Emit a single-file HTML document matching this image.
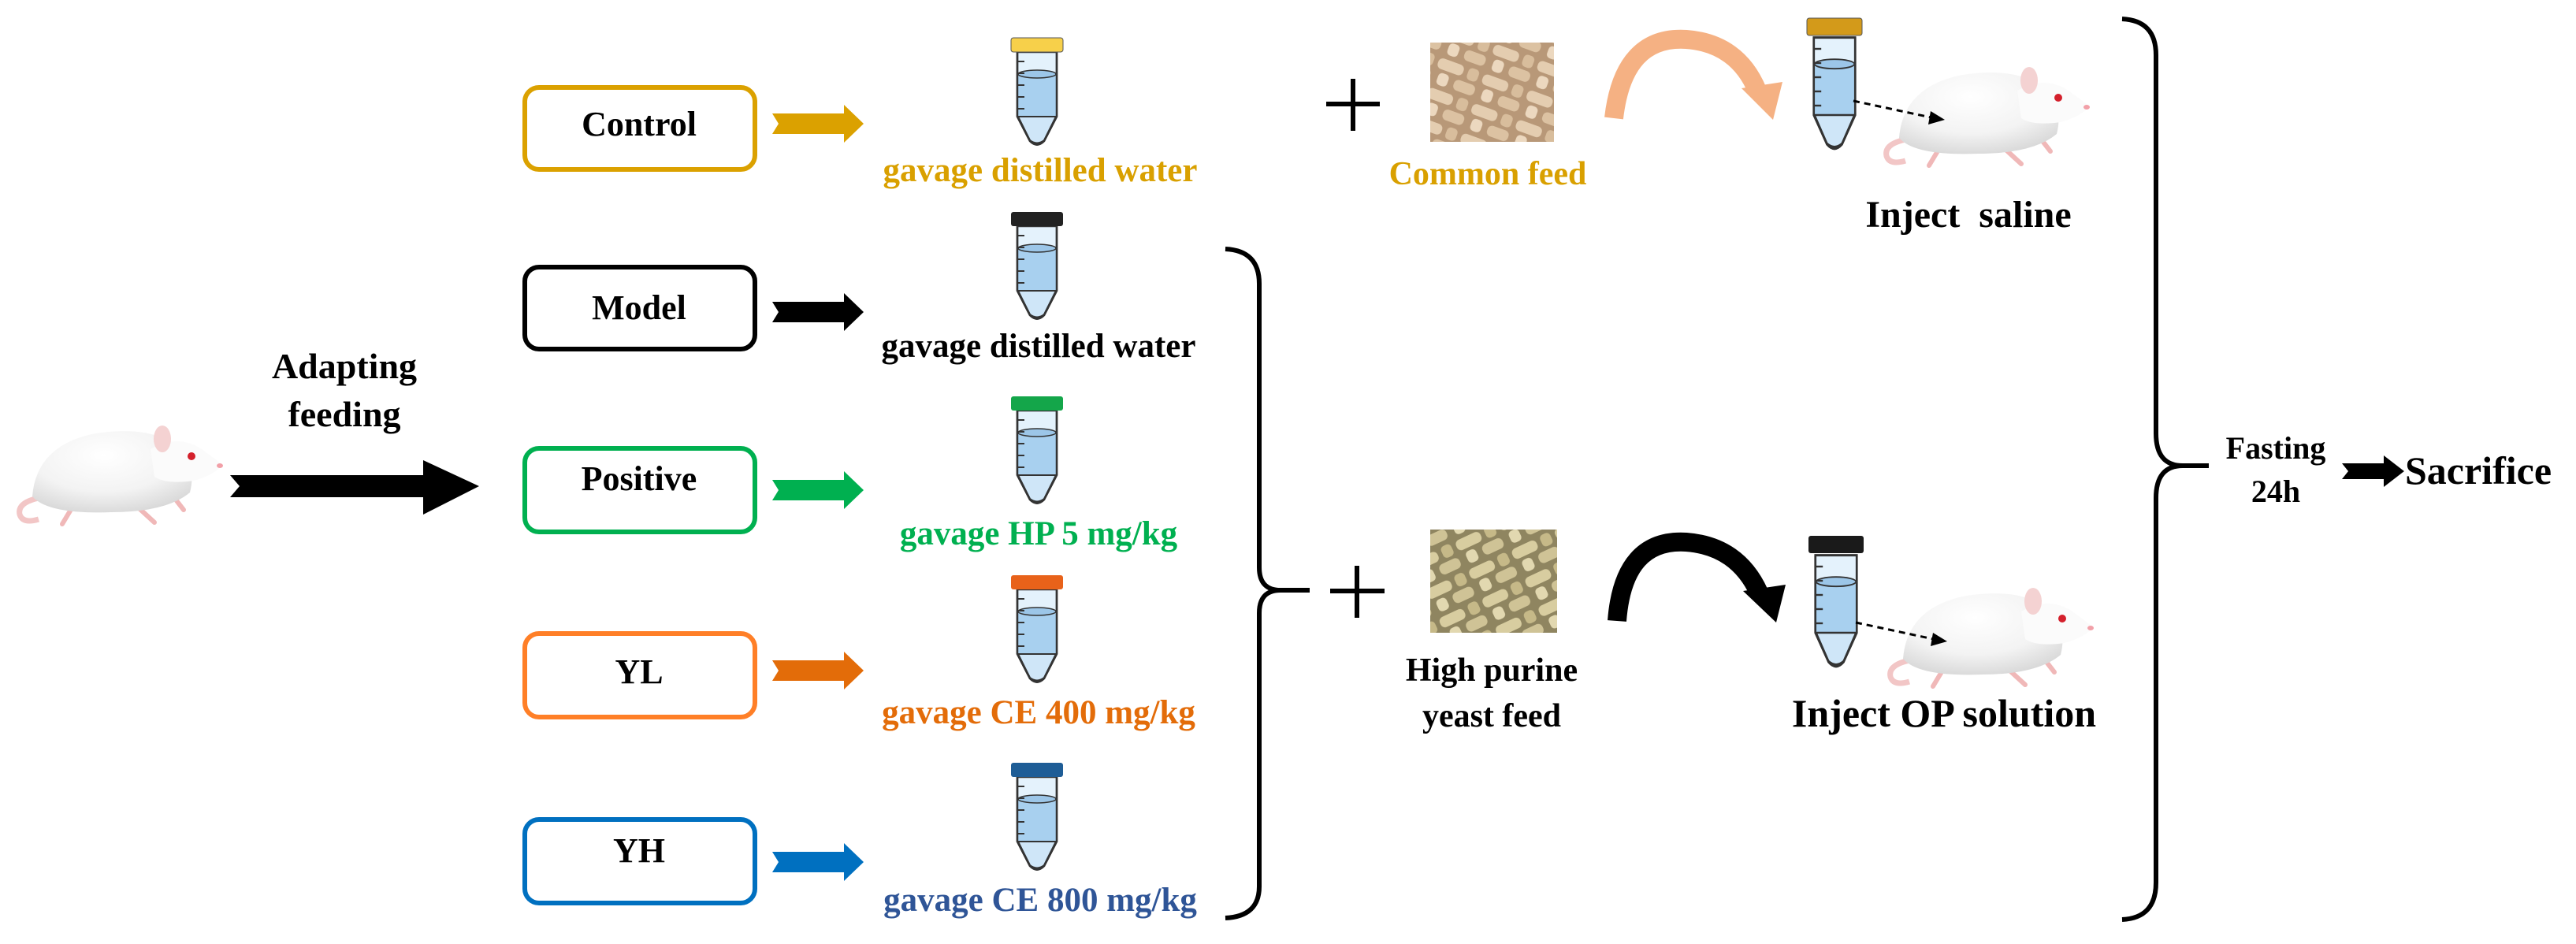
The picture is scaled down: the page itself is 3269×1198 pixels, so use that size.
<!DOCTYPE html>
<html><head><meta charset="utf-8"><style>
html,body{margin:0;padding:0;background:#fff}
svg{display:block}
text{font-family:"Liberation Serif",serif;font-weight:bold}
</style></head><body>
<svg width="3269" height="1198" viewBox="0 0 3269 1198" xmlns="http://www.w3.org/2000/svg">
<defs>
<radialGradient id="fur" cx="0.45" cy="0.3" r="0.75">
<stop offset="0" stop-color="#ffffff"/><stop offset="0.6" stop-color="#f3f3f3"/><stop offset="1" stop-color="#d6d6d6"/>
</radialGradient>
<g id="tube">
<path d="M-25,18 V100 L-9,131 Q0,140 9,131 L25,100 V18 Z" fill="#e4f2fc" stroke="#333" stroke-width="2.5"/>
<path d="M-24,46 H24 V100 L9,130 Q0,137 -9,130 L-24,100 Z" fill="#a8d0ef"/>
<path d="M-24,100 H24 L9,130 Q0,137 -9,130 Z" fill="#cfe6f8" stroke="#333" stroke-width="2"/>
<ellipse cx="0" cy="46" rx="24" ry="5" fill="#9cc6e8" stroke="#333" stroke-width="1.5"/>
<path d="M-25,18 V100 L-9,131 Q0,140 9,131 L25,100 V18" fill="none" stroke="#333" stroke-width="2.5"/>
<g stroke="#333" stroke-width="2"><line x1="-24" y1="30" x2="-16" y2="30"/><line x1="-24" y1="45" x2="-16" y2="45"/><line x1="-24" y1="60" x2="-16" y2="60"/><line x1="-24" y1="75" x2="-16" y2="75"/><line x1="-24" y1="90" x2="-16" y2="90"/></g>
</g>
<g id="arr"><path d="M0,-13 H91 V-24 L116,0 L91,24 V13 H0 L8,0 Z"/></g>
<g id="rat">
<path d="M40,95 Q0,100 4,118 Q8,130 28,124" fill="none" stroke="#f2c6c6" stroke-width="7"/>
<g stroke="#f0b8b8" stroke-width="6" stroke-linecap="round"><line x1="70" y1="110" x2="58" y2="130"/><line x1="150" y1="105" x2="175" y2="128"/><line x1="195" y1="90" x2="212" y2="112"/></g>
<path d="M20,95 Q25,30 100,15 Q170,5 200,30 Q230,50 220,90 Q190,115 120,115 Q40,118 20,95 Z" fill="url(#fur)"/>
<path d="M170,35 Q205,15 235,35 L262,55 Q250,68 225,75 Q190,80 175,70 Z" fill="#fbfbfb"/>
<ellipse cx="258" cy="56" rx="4" ry="3" fill="#f2a0a8"/>
<ellipse cx="185" cy="22" rx="11" ry="17" fill="#f4d2d2"/>
<circle cx="222" cy="44" r="5" fill="#d4202c"/>
</g>
<pattern id="feed1" width="60" height="40" patternUnits="userSpaceOnUse" patternTransform="rotate(20)">
<rect width="60" height="40" fill="#b89878"/>
<rect x="2" y="3" width="34" height="14" rx="6" fill="#e4cdb0"/>
<rect x="30" y="22" width="28" height="14" rx="6" fill="#dcc2a2"/>
<rect x="8" y="21" width="14" height="16" rx="5" fill="#ecd8bf"/>
<rect x="42" y="2" width="14" height="16" rx="5" fill="#d8bd9c"/>
</pattern>
<pattern id="feed2" width="60" height="40" patternUnits="userSpaceOnUse" patternTransform="rotate(-25)">
<rect width="60" height="40" fill="#8f8560"/>
<rect x="2" y="3" width="34" height="14" rx="6" fill="#d8cda0"/>
<rect x="30" y="22" width="28" height="14" rx="6" fill="#cfc396"/>
<rect x="8" y="21" width="14" height="16" rx="5" fill="#e2d8b0"/>
<rect x="42" y="2" width="14" height="16" rx="5" fill="#c6b988"/>
</pattern>
</defs>

<use href="#rat" transform="translate(21,535)"/>
<path d="M292,603 H537 V584 L608,617 L537,653 V631 H292 L304,617 Z" fill="#000"/>
<text x="437" y="480" font-size="46" text-anchor="middle">Adapting</text>
<text x="437" y="541" font-size="46" text-anchor="middle">feeding</text>

<g fill="#fff" stroke-width="6">
<rect x="666" y="111" width="292" height="104" rx="18" stroke="#dba100"/>
<rect x="666" y="339" width="292" height="104" rx="18" stroke="#000"/>
<rect x="666" y="569" width="292" height="106" rx="18" stroke="#00b050"/>
<rect x="666" y="804" width="292" height="106" rx="18" stroke="#ff7f27"/>
<rect x="666" y="1040" width="292" height="106" rx="18" stroke="#0070c0"/>
</g>
<g font-size="44" text-anchor="middle" fill="#000">
<text x="811" y="172">Control</text>
<text x="811" y="405">Model</text>
<text x="811" y="622">Positive</text>
<text x="811" y="867">YL</text>
<text x="811" y="1094">YH</text>
</g>
<use href="#arr" transform="translate(980,157)" fill="#dba100"/>
<use href="#arr" transform="translate(980,396)" fill="#000"/>
<use href="#arr" transform="translate(980,622)" fill="#00b050"/>
<use href="#arr" transform="translate(980,851)" fill="#e36c09"/>
<use href="#arr" transform="translate(980,1094)" fill="#0070c0"/>

<use href="#tube" transform="translate(1316,48)"/><rect x="1283" y="48" width="66" height="18" rx="3" fill="#f7d04a" stroke="#555"/>
<use href="#tube" transform="translate(1316,269)"/><rect x="1283" y="269" width="66" height="18" rx="3" fill="#222"/>
<use href="#tube" transform="translate(1316,503)"/><rect x="1283" y="503" width="66" height="18" rx="3" fill="#14a64a"/>
<use href="#tube" transform="translate(1316,730)"/><rect x="1283" y="730" width="66" height="18" rx="3" fill="#e8621a"/>
<use href="#tube" transform="translate(1316,968)"/><rect x="1283" y="968" width="66" height="18" rx="3" fill="#1e5d96"/>

<g font-size="43" text-anchor="middle">
<text x="1320" y="230" fill="#d9a000">gavage distilled water</text>
<text x="1318" y="453" fill="#000">gavage distilled water</text>
<text x="1318" y="691" fill="#00b050">gavage HP 5 mg/kg</text>
<text x="1318" y="918" fill="#e36c09">gavage CE 400 mg/kg</text>
<text x="1320" y="1156" fill="#2f5597">gavage CE 800 mg/kg</text>
</g>

<path d="M1555,316 Q1598,318 1598,360 V720 Q1598,749 1625,749 H1662 M1625,749 Q1598,749 1598,778 V1125 Q1598,1163 1555,1165" fill="none" stroke="#000" stroke-width="6"/>

<g stroke="#000" stroke-width="6"><line x1="1683" y1="132" x2="1751" y2="132"/><line x1="1717" y1="100" x2="1717" y2="166"/>
<line x1="1688" y1="750" x2="1757" y2="750"/><line x1="1722" y1="718" x2="1722" y2="784"/></g>

<rect x="1815" y="54" width="157" height="126" fill="url(#feed1)"/>
<text x="1888" y="234" font-size="42" text-anchor="middle" fill="#d9a000">Common feed</text>
<rect x="1815" y="672" width="161" height="131" fill="url(#feed2)"/>
<text x="1893" y="864" font-size="42" text-anchor="middle">High purine</text>
<text x="1893" y="922" font-size="42" text-anchor="middle">yeast feed</text>

<path d="M2048,150 Q2060,45 2140,50 Q2205,55 2230,115" fill="none" stroke="#f5b183" stroke-width="24"/>
<path d="M2210,112 L2262,104 L2250,152 Z" fill="#f5b183"/>
<path d="M2052,788 Q2060,683 2140,688 Q2205,693 2232,752" fill="none" stroke="#000" stroke-width="24"/>
<path d="M2212,750 L2266,742 L2254,790 Z" fill="#000"/>

<use href="#tube" transform="translate(2328,26) scale(1.05,1.2)"/><rect x="2293" y="23" width="70" height="22" rx="3" fill="#d39a1a" stroke="#555"/>
<use href="#tube" transform="translate(2330,683) scale(1.05,1.2)"/><rect x="2295" y="680" width="70" height="22" rx="3" fill="#1a1a1a"/>

<use href="#rat" transform="translate(2390,80)"/>
<use href="#rat" transform="translate(2395,741)"/>
<g stroke="#000" stroke-width="3" stroke-dasharray="8,6"><line x1="2352" y1="128" x2="2455" y2="150"/><line x1="2355" y1="790" x2="2458" y2="812"/></g>
<path d="M2468,152 L2450,141 L2447,158 Z"/><path d="M2471,814 L2453,803 L2450,820 Z"/>
<text x="2498" y="288" font-size="48" text-anchor="middle" xml:space="preserve">Inject  saline</text>
<text x="2467" y="922" font-size="50" text-anchor="middle">Inject OP solution</text>

<path d="M2693,24 Q2736,26 2736,70 V550 Q2736,591 2770,591 H2803 M2770,591 Q2736,591 2736,632 V1120 Q2736,1165 2693,1167" fill="none" stroke="#000" stroke-width="6"/>
<text x="2888" y="582" font-size="40" text-anchor="middle">Fasting</text>
<text x="2888" y="637" font-size="40" text-anchor="middle">24h</text>
<path d="M2972,588 H3025 V578 L3051,598 L3025,618 V608 H2972 L2980,598 Z"/>
<text x="3052" y="614" font-size="50">Sacrifice</text>
</svg>
</body></html>
